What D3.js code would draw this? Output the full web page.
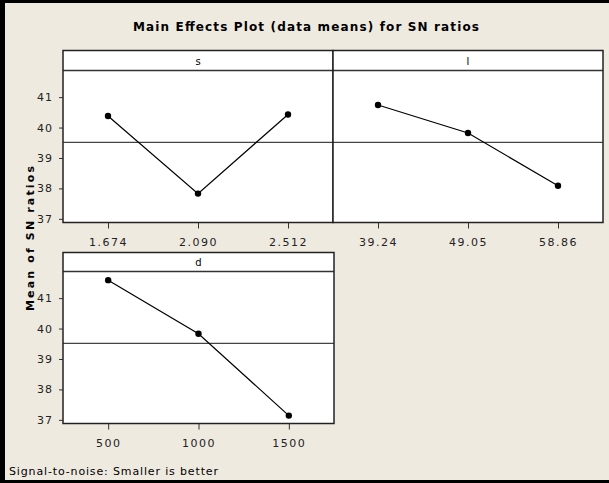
<!DOCTYPE html>
<html>
<head>
<meta charset="utf-8">
<script src="https://cdn.jsdelivr.net/npm/d3@7"></script>
<style>
  body { margin: 0; background: #efeae0; }
  svg { display: block; }
</style>
</head>
<body>
<div id="container"></div>
<script>
// main effects for SN ratios
let sLevels = ["1.674", "2.090", "2.512"];
let sMeans = [40.38, 37.83, 40.43];
let lLevels = ["39.24", "49.05", "58.86"];
let lMeans = [40.74, 39.82, 38.09];
let dLevels = ["500", "1000", "1500"];
let dMeans = [41.59, 39.83, 37.14];
let overallMean = 39.51;
let yTicks = [37, 38, 39, 40, 41];
let yDomain = [36.88, 41.875];

let w = 609;
let h = 483;
let font = "DejaVu Sans, Verdana, sans-serif";

let viz = d3.select("#container")
  .append("svg")
  .attr("width", w)
  .attr("height", h)
  .style("background-color", "#efeae0");

// black frame on left, top and bottom
viz.append("rect").attr("x", 0).attr("y", 0).attr("width", 5).attr("height", h).attr("fill", "#000");
viz.append("rect").attr("x", 0).attr("y", 0).attr("width", w).attr("height", 3).attr("fill", "#000");
viz.append("rect").attr("x", 0).attr("y", h - 3).attr("width", w).attr("height", 3).attr("fill", "#000");

// title
viz.append("text")
  .attr("x", 306)
  .attr("y", 31)
  .attr("text-anchor", "middle")
  .attr("font-family", font)
  .attr("font-weight", "bold")
  .attr("font-size", 12)
  .attr("textLength", 346)
  .attr("lengthAdjust", "spacing")
  .text("Main Effects Plot (data means) for SN ratios");

// y label
viz.append("text")
  .attr("transform", "translate(34, 238.5) rotate(-90)")
  .attr("text-anchor", "middle")
  .attr("font-family", font)
  .attr("font-weight", "bold")
  .attr("font-size", 11)
  .attr("textLength", 145)
  .attr("lengthAdjust", "spacing")
  .text("Mean of SN ratios");

// footer
viz.append("text")
  .attr("x", 9)
  .attr("y", 475)
  .attr("font-family", font)
  .attr("font-size", 11)
  .attr("textLength", 209)
  .attr("lengthAdjust", "spacing")
  .text("Signal-to-noise: Smaller is better");

let panels = [
  { name: "s", levels: sLevels, means: sMeans, x0: 63, x1: 333, top: 50.5, stripH: 20, bottom: 222.5, yAxis: true },
  { name: "l", levels: lLevels, means: lMeans, x0: 333, x1: 603, top: 50.5, stripH: 20, bottom: 222.5, yAxis: false },
  { name: "d", levels: dLevels, means: dMeans, x0: 63, x1: 334, top: 252.5, stripH: 19, bottom: 423.5, yAxis: true }
];

panels.forEach(function (p) {
  let g = viz.append("g").attr("class", "panel");
  let plotTop = p.top + p.stripH;

  let xScale = d3.scalePoint().domain(p.levels).range([p.x0, p.x1]).padding(0.5);
  let yScale = d3.scaleLinear().domain(yDomain).range([p.bottom, plotTop]);

  // strip + plot area
  g.append("rect")
    .attr("x", p.x0).attr("y", p.top)
    .attr("width", p.x1 - p.x0).attr("height", p.bottom - p.top)
    .attr("fill", "#fff");

  g.append("text")
    .attr("x", (p.x0 + p.x1) / 2)
    .attr("y", p.top + p.stripH / 2 + 4)
    .attr("text-anchor", "middle")
    .attr("font-family", font)
    .attr("font-size", 10)
    .attr("fill", "#000")
    .text(p.name);

  // reference line at the overall mean
  g.append("line")
    .attr("x1", p.x0).attr("x2", p.x1)
    .attr("y1", yScale(overallMean)).attr("y2", yScale(overallMean))
    .attr("stroke", "#444")
    .attr("stroke-width", 1.3);

  // axes
  let xAxisGroup = g.append("g")
    .attr("transform", "translate(0," + p.bottom + ")")
    .call(d3.axisBottom(xScale).tickSize(6).tickPadding(10));
  xAxisGroup.select(".domain").remove();
  xAxisGroup.selectAll("text")
    .attr("font-family", font)
    .attr("font-size", 11)
    .attr("letter-spacing", 1.5)
    .attr("fill", "#222");
  xAxisGroup.selectAll("line").attr("stroke", "#333");

  if (p.yAxis) {
    let yAxisGroup = g.append("g")
      .attr("transform", "translate(" + p.x0 + ",0)")
      .call(d3.axisLeft(yScale).tickValues(yTicks).tickFormat(d3.format("d")).tickSize(4).tickPadding(6));
    yAxisGroup.select(".domain").remove();
    yAxisGroup.selectAll("text")
      .attr("font-family", font)
      .attr("font-size", 11)
      .attr("letter-spacing", 1)
      .attr("fill", "#222");
    yAxisGroup.selectAll("line").attr("stroke", "#333");
  }

  // main effect line + points
  let pts = p.levels.map(function (lv, i) { return { lv: lv, v: p.means[i] }; });
  let line = d3.line()
    .x(function (d) { return xScale(d.lv); })
    .y(function (d) { return yScale(d.v); });

  g.append("path")
    .datum(pts)
    .attr("d", line)
    .attr("fill", "none")
    .attr("stroke", "#000")
    .attr("stroke-width", 1.2);

  g.selectAll("circle")
    .data(pts)
    .enter()
    .append("circle")
    .attr("cx", function (d) { return xScale(d.lv); })
    .attr("cy", function (d) { return yScale(d.v); })
    .attr("r", 3.2)
    .attr("fill", "#000");

  // borders
  g.append("line")
    .attr("x1", p.x0).attr("x2", p.x1)
    .attr("y1", plotTop).attr("y2", plotTop)
    .attr("stroke", "#333").attr("stroke-width", 1.5);
  g.append("rect")
    .attr("x", p.x0).attr("y", p.top)
    .attr("width", p.x1 - p.x0).attr("height", p.bottom - p.top)
    .attr("fill", "none")
    .attr("stroke", "#222")
    .attr("stroke-width", 1.5);
});
</script>
</body>
</html>
